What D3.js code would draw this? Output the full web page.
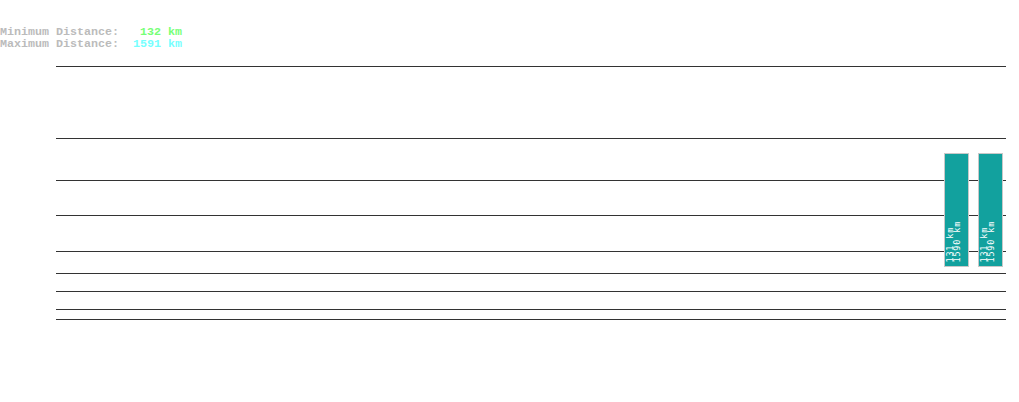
<!DOCTYPE html>
<html>
<head>
<meta charset="utf-8">
<script src="https://cdn.jsdelivr.net/npm/d3@7"></script>
<style>
    body { margin: 0; background: #fff; }
    svg { display: block; }
    .info { font-family: "Liberation Mono", monospace; font-size: 11.67px; font-weight: bold; white-space: pre; }
    .bar-label { font-family: "DejaVu Sans Mono", monospace; font-size: 8.5px; letter-spacing: 0.85px; fill: #fff; }
</style>
</head>
<body>
<svg width="1019" height="402"></svg>
<script>
    // distances in km
    var minDistance = 132,
        maxDistance = 1591;

    var gridValues = [40, 50, 75, 110, 180, 400, 870, 2200, 11000];

    var barNames = ["a", "b"],
        barLow = [131, 131],
        barHigh = [1590, 1590];

    var margin = { top: 66, right: 13, bottom: 83, left: 56 },
        svg = d3.select("svg"),
        width = +svg.attr("width") - margin.left - margin.right,
        height = +svg.attr("height") - margin.top - margin.bottom;

    var y = d3.scaleLog().domain([40, 11000]).range([height, 0]);
    var x = d3.scaleBand().domain(barNames).range([width - 62, width - 4]).paddingInner(10 / 34);

    // header
    var info = svg.append("text").attr("class", "info");
    info.append("tspan").attr("x", 0).attr("y", 35).attr("fill", "#bbb").text("Minimum Distance:   ");
    info.append("tspan").attr("fill", "#77ff77").text(minDistance + " km");
    var info2 = svg.append("text").attr("class", "info");
    info2.append("tspan").attr("x", 0).attr("y", 47).attr("fill", "#bbb").text("Maximum Distance:  ");
    info2.append("tspan").attr("fill", "#77ffff").text(maxDistance + " km");

    var g = svg.append("g")
        .attr("transform", "translate(" + margin.left + "," + margin.top + ")");

    g.append("g")
        .attr("class", "axis axis--grid")
        .call(d3.axisRight(y).tickValues(gridValues).tickSize(width).tickFormat(""))
        .call(function(a) {
            a.select(".domain").remove();
            a.selectAll("line").attr("stroke", "#333").attr("shape-rendering", "crispEdges");
        });

    var bars = barNames.map(function(n, i) {
        return { name: n, low: barLow[i], high: barHigh[i] };
    });

    var bar = g.selectAll(".bar")
        .data(bars)
        .enter().append("g")
        .attr("class", "bar");

    bar.append("rect")
        .attr("x", function(d) { return Math.round(x(d.name)) + 0.5; })
        .attr("y", function(d) { return Math.round(y(d.high)) + 0.5; })
        .attr("width", Math.round(x.bandwidth()))
        .attr("height", function(d) { return Math.round(y(d.low)) - Math.round(y(d.high)); })
        .attr("fill", "#12a19e")
        .attr("stroke", "#c8c8c8");

    bar.append("text")
        .attr("class", "bar-label")
        .attr("transform", function(d) {
            return "translate(" + (x(d.name) + 9) + "," + (y(d.low) - 3) + ") rotate(-90)";
        })
        .selectAll("tspan")
        .data(function(d) { return [d.low + " km", d.high + " km"]; })
        .enter().append("tspan")
        .attr("x", 0)
        .attr("dy", function(d, i) { return i ? 7 : 0; })
        .text(function(d) { return d; });
</script>
</body>
</html>
